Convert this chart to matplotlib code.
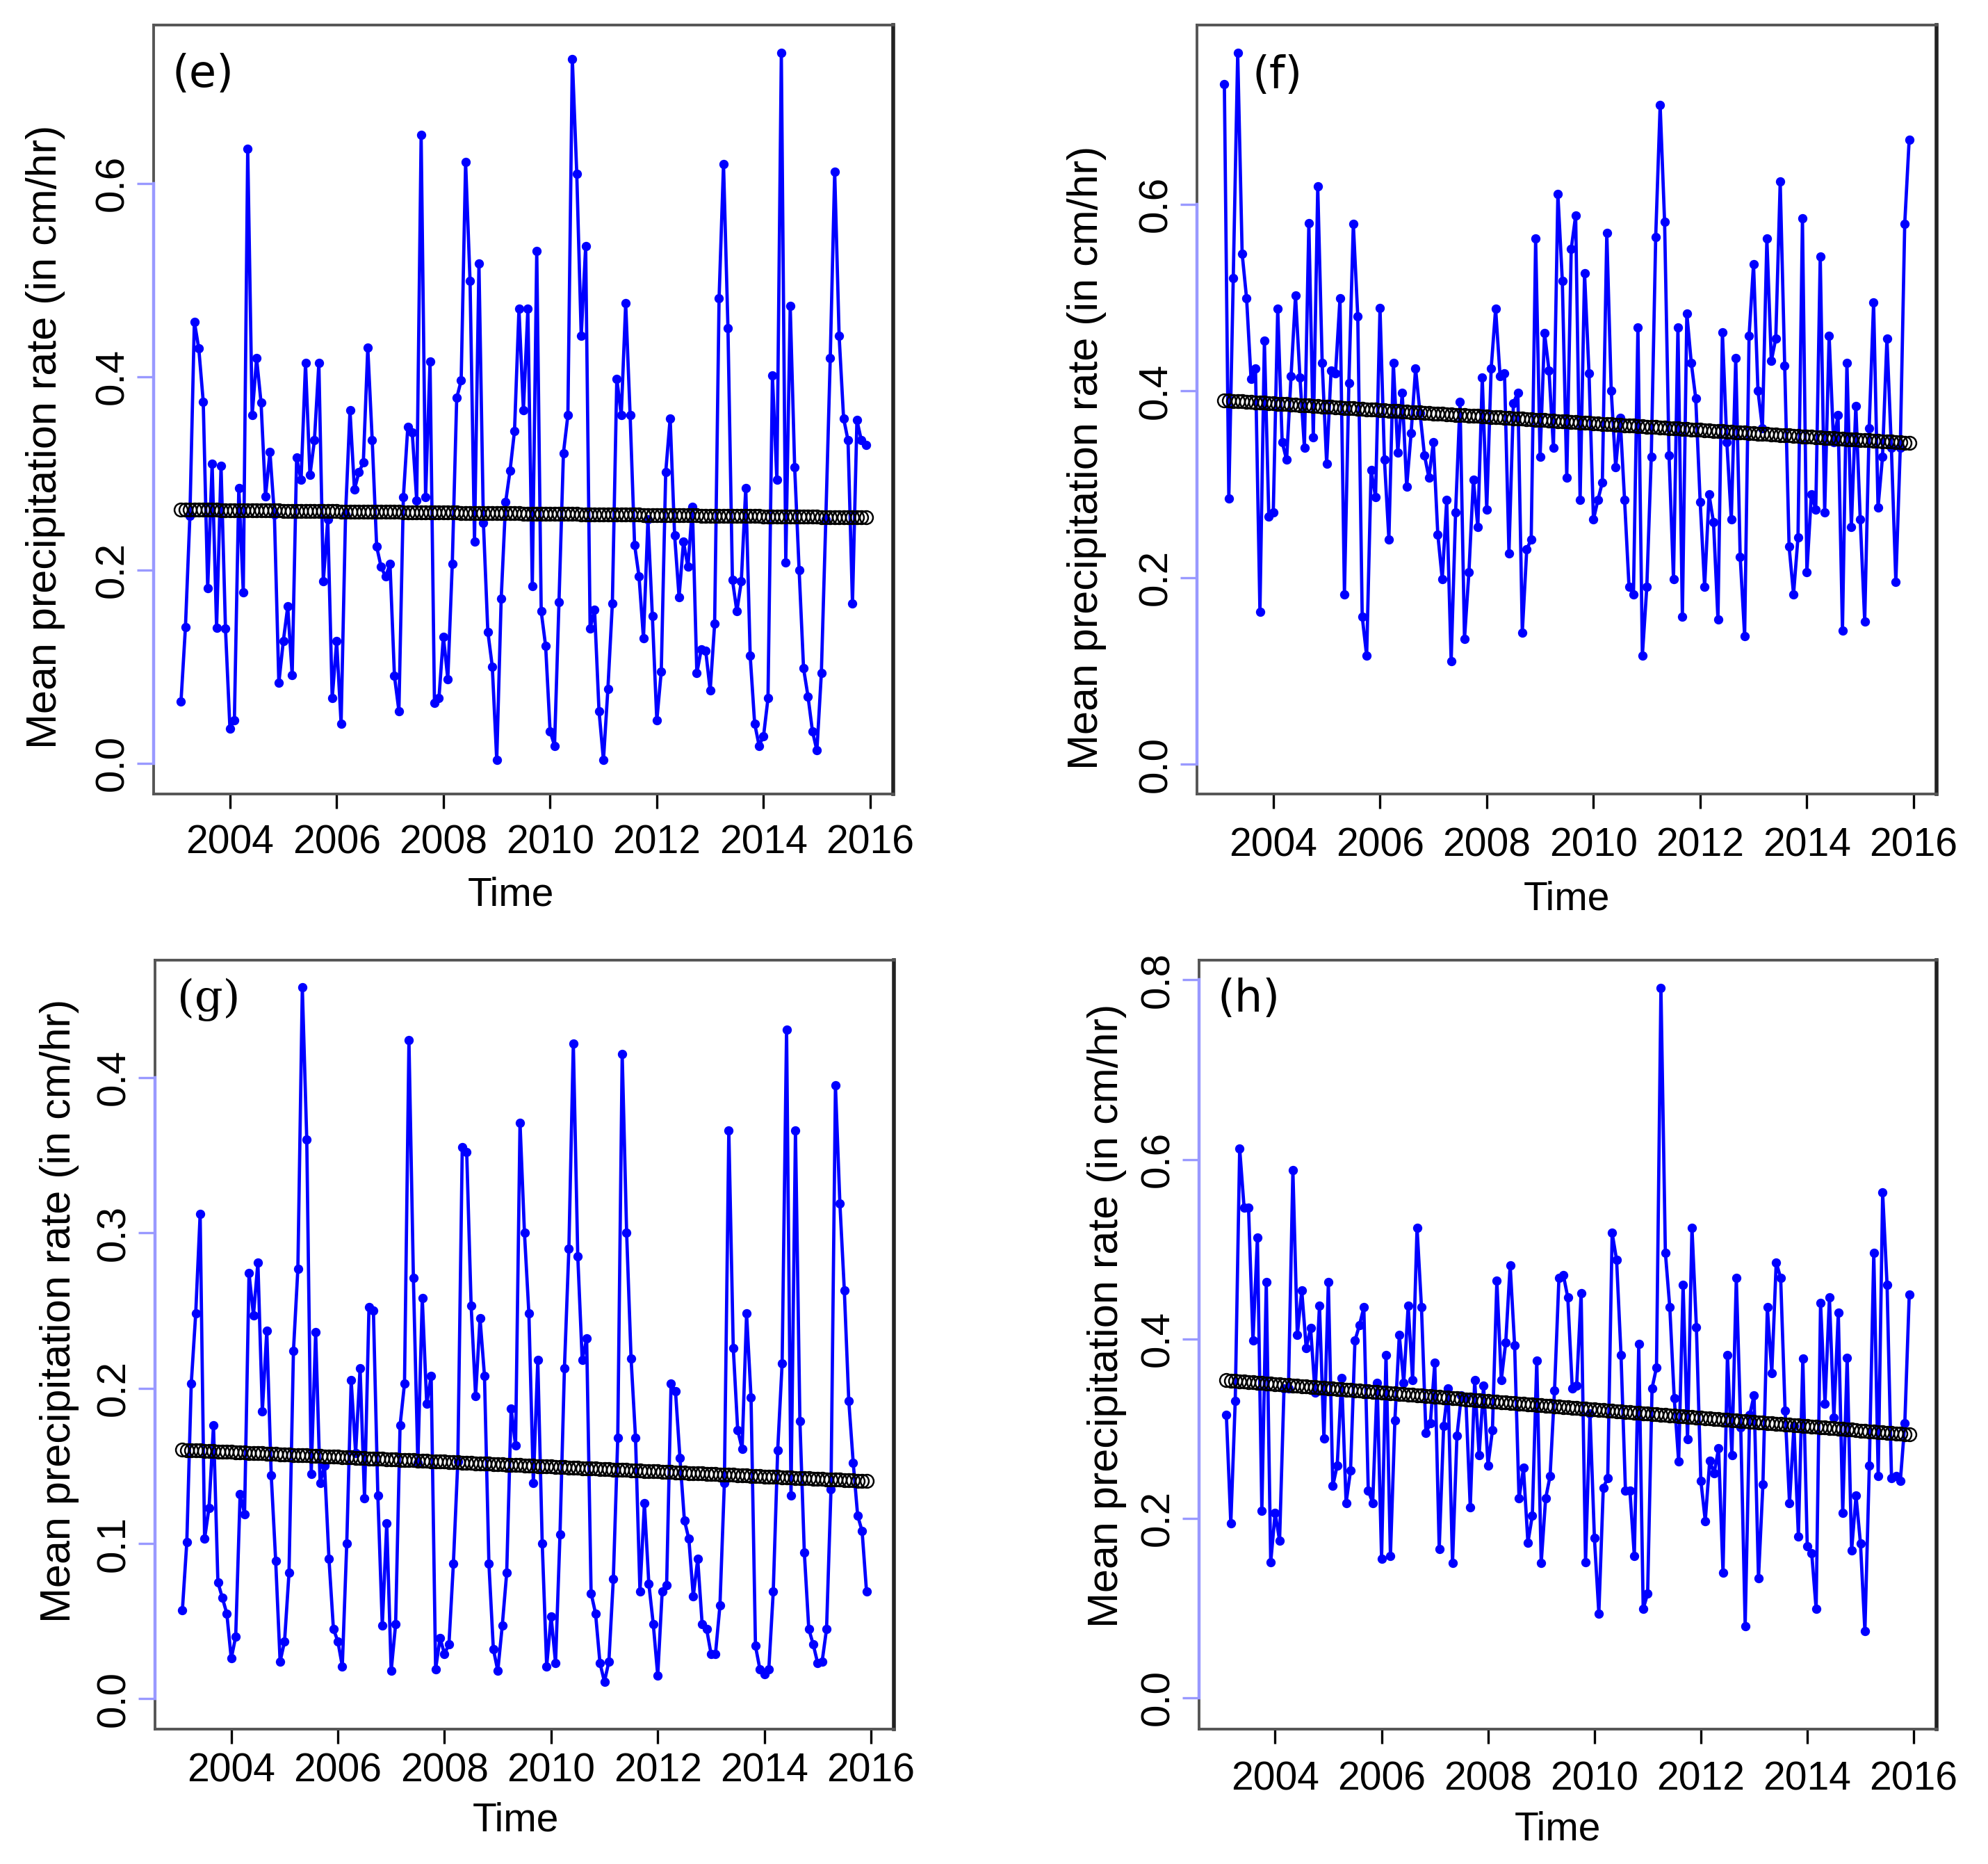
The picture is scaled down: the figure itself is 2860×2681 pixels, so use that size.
import numpy as np
import matplotlib.pyplot as plt
from matplotlib import font_manager

# monthly series, Feb 2003 .. Dec 2015
start = 2003 + 1 / 12

rate_e = [0.064, 0.141, 0.256, 0.457, 0.429, 0.374, 0.181, 0.310, 0.140, 0.308,
          0.139, 0.036, 0.044, 0.285, 0.177, 0.636, 0.360, 0.419, 0.373, 0.276,
          0.322, 0.257, 0.083, 0.126, 0.162, 0.091, 0.316, 0.293, 0.414, 0.298,
          0.334, 0.414, 0.188, 0.252, 0.067, 0.126, 0.041, 0.257, 0.365, 0.283,
          0.301, 0.311, 0.430, 0.334, 0.224, 0.203, 0.193, 0.206, 0.090, 0.054,
          0.275, 0.348, 0.342, 0.272, 0.650, 0.275, 0.416, 0.062, 0.067, 0.131,
          0.087, 0.206, 0.378, 0.396, 0.622, 0.499, 0.229, 0.517, 0.249, 0.136,
          0.100, 0.003, 0.170, 0.270, 0.303, 0.344, 0.470, 0.365, 0.470, 0.183,
          0.530, 0.157, 0.121, 0.033, 0.018, 0.167, 0.321, 0.360, 0.729, 0.610,
          0.442, 0.535, 0.139, 0.159, 0.054, 0.003, 0.077, 0.165, 0.398, 0.360,
          0.476, 0.360, 0.226, 0.193, 0.129, 0.252, 0.152, 0.044, 0.095, 0.301,
          0.357, 0.236, 0.172, 0.229, 0.203, 0.265, 0.093, 0.118, 0.116, 0.075,
          0.144, 0.481, 0.620, 0.450, 0.190, 0.157, 0.188, 0.285, 0.111, 0.041,
          0.018, 0.028, 0.067, 0.401, 0.293, 0.735, 0.208, 0.473, 0.306, 0.200,
          0.098, 0.069, 0.033, 0.013, 0.093, 0.252, 0.419, 0.612, 0.442, 0.357,
          0.334, 0.165, 0.355, 0.334, 0.329]

rate_f = [0.729, 0.285, 0.521, 0.762, 0.547, 0.499, 0.413, 0.424, 0.163, 0.454,
          0.265, 0.270, 0.488, 0.345, 0.326, 0.416, 0.502, 0.414, 0.339, 0.580,
          0.350, 0.619, 0.430, 0.322, 0.422, 0.419, 0.499, 0.182, 0.408, 0.579,
          0.480, 0.158, 0.116, 0.315, 0.286, 0.489, 0.326, 0.241, 0.430, 0.334,
          0.398, 0.297, 0.355, 0.424, 0.376, 0.331, 0.307, 0.345, 0.246, 0.198,
          0.283, 0.110, 0.270, 0.388, 0.134, 0.206, 0.305, 0.254, 0.414, 0.273,
          0.424, 0.488, 0.416, 0.419, 0.226, 0.387, 0.398, 0.141, 0.230, 0.241,
          0.563, 0.329, 0.462, 0.422, 0.339, 0.611, 0.518, 0.307, 0.552, 0.588,
          0.283, 0.526, 0.419, 0.262, 0.283, 0.302, 0.569, 0.400, 0.318, 0.371,
          0.283, 0.190, 0.182, 0.468, 0.116, 0.190, 0.329, 0.565, 0.706, 0.581,
          0.331, 0.198, 0.468, 0.158, 0.483, 0.430, 0.392, 0.281, 0.190, 0.289,
          0.259, 0.155, 0.463, 0.345, 0.262, 0.435, 0.222, 0.137, 0.459, 0.536,
          0.400, 0.360, 0.563, 0.432, 0.456, 0.624, 0.427, 0.233, 0.182, 0.243,
          0.585, 0.206, 0.289, 0.273, 0.544, 0.270, 0.459, 0.345, 0.374, 0.143,
          0.430, 0.254, 0.384, 0.262, 0.153, 0.360, 0.495, 0.275, 0.329, 0.456,
          0.339, 0.195, 0.339, 0.579, 0.669]

rate_g = [0.057, 0.101, 0.203, 0.248, 0.312, 0.103, 0.123, 0.176, 0.075, 0.065,
          0.055, 0.026, 0.040, 0.132, 0.119, 0.274, 0.247, 0.281, 0.185, 0.237,
          0.144, 0.089, 0.024, 0.037, 0.081, 0.224, 0.277, 0.458, 0.360, 0.145,
          0.236, 0.139, 0.150, 0.090, 0.045, 0.037, 0.021, 0.100, 0.205, 0.158,
          0.213, 0.129, 0.252, 0.250, 0.131, 0.047, 0.113, 0.018, 0.048, 0.176,
          0.203, 0.424, 0.271, 0.152, 0.258, 0.190, 0.208, 0.019, 0.039, 0.029,
          0.035, 0.087, 0.153, 0.355, 0.352, 0.253, 0.195, 0.245, 0.208, 0.087,
          0.032, 0.018, 0.047, 0.081, 0.187, 0.163, 0.371, 0.300, 0.248, 0.139,
          0.218, 0.100, 0.021, 0.053, 0.023, 0.106, 0.213, 0.290, 0.422, 0.285,
          0.218, 0.232, 0.068, 0.055, 0.023, 0.011, 0.024, 0.077, 0.168, 0.415,
          0.300, 0.219, 0.168, 0.069, 0.126, 0.074, 0.048, 0.015, 0.069, 0.073,
          0.203, 0.198, 0.155, 0.115, 0.103, 0.066, 0.090, 0.048, 0.045, 0.029,
          0.029, 0.060, 0.139, 0.366, 0.226, 0.173, 0.161, 0.248, 0.194, 0.034,
          0.019, 0.016, 0.019, 0.069, 0.160, 0.216, 0.431, 0.131, 0.366, 0.179,
          0.094, 0.045, 0.035, 0.023, 0.024, 0.045, 0.135, 0.395, 0.319, 0.263,
          0.192, 0.152, 0.118, 0.108, 0.069]

rate_h = [0.315, 0.194, 0.331, 0.612, 0.546, 0.546, 0.398, 0.513, 0.208, 0.463,
          0.151, 0.206, 0.175, 0.345, 0.345, 0.588, 0.404, 0.454, 0.390, 0.412,
          0.340, 0.437, 0.289, 0.463, 0.236, 0.259, 0.356, 0.217, 0.253, 0.398,
          0.415, 0.435, 0.231, 0.217, 0.351, 0.155, 0.382, 0.158, 0.309, 0.404,
          0.351, 0.437, 0.354, 0.524, 0.435, 0.295, 0.306, 0.373, 0.166, 0.303,
          0.345, 0.150, 0.292, 0.337, 0.334, 0.212, 0.354, 0.270, 0.348, 0.259,
          0.298, 0.465, 0.354, 0.396, 0.482, 0.393, 0.222, 0.256, 0.173, 0.203,
          0.376, 0.150, 0.222, 0.247, 0.342, 0.468, 0.471, 0.446, 0.345, 0.348,
          0.451, 0.151, 0.317, 0.178, 0.094, 0.234, 0.245, 0.518, 0.488, 0.382,
          0.231, 0.231, 0.158, 0.394, 0.099, 0.116, 0.345, 0.368, 0.791, 0.496,
          0.435, 0.334, 0.263, 0.460, 0.288, 0.524, 0.413, 0.242, 0.197, 0.264,
          0.250, 0.278, 0.139, 0.382, 0.270, 0.468, 0.301, 0.080, 0.315, 0.337,
          0.133, 0.238, 0.435, 0.362, 0.485, 0.468, 0.320, 0.217, 0.303, 0.180,
          0.378, 0.169, 0.161, 0.099, 0.440, 0.328, 0.446, 0.312, 0.429, 0.206,
          0.379, 0.164, 0.225, 0.172, 0.074, 0.259, 0.496, 0.247, 0.563, 0.460,
          0.245, 0.247, 0.242, 0.306, 0.449]

year_ticks = [2004, 2006, 2008, 2010, 2012, 2014, 2016]

# the x-axis text in the source is condensed; use a narrow face if there is one
try:
    font_manager.findfont("Liberation Sans Narrow", fallback_to_default=False)
    narrow, narrow_size = ["Liberation Sans Narrow", "DejaVu Sans"], 22
except ValueError:
    narrow, narrow_size = ["Liberation Sans", "DejaVu Sans"], 20.5
plain = ["Liberation Sans", "DejaVu Sans"]

W, H = 2860, 2681
fig = plt.figure(figsize=(W / 200, H / 200), dpi=200)

# (series, tag, axes box in px [l, t, r, b], ylim, yticks, label offsets)
panels = [
    (rate_e, "(e)", [221, 36, 1285, 1142], (-0.032, 0.764), [0.0, 0.2, 0.4, 0.6],
     dict(ylab_x=-0.146, ylab_y=0.464, xpad=8, time_x=0.483, time_y=-0.132, tag_x=0.025, tag_y=0.936, tag_family="DejaVu Sans")),
    (rate_f, "(f)", [1722, 36, 2786, 1142], (-0.032, 0.792), [0.0, 0.2, 0.4, 0.6],
     dict(ylab_x=-0.149, ylab_y=0.437, xpad=9.4, time_x=0.5, time_y=-0.137, tag_x=0.075, tag_y=0.934, tag_family="DejaVu Sans")),
    (rate_g, "(g)", [223, 1381, 1286, 2487], (-0.0195, 0.4756), [0.0, 0.1, 0.2, 0.3, 0.4],
     dict(ylab_x=-0.129, ylab_y=0.544, xpad=4.5, time_x=0.488, time_y=-0.119, tag_x=0.030, tag_y=0.949, tag_family="DejaVu Serif")),
    (rate_h, "(h)", [1725, 1381, 2786, 2487], (-0.035, 0.822), [0.0, 0.2, 0.4, 0.6, 0.8],
     dict(ylab_x=-0.125, ylab_y=0.538, xpad=8.7, time_x=0.486, time_y=-0.131, tag_x=0.025, tag_y=0.949, tag_family="DejaVu Sans")),
]

for vals, tag, box, ylim, yticks, opt in panels:
    l, t, r, b = box
    ax = fig.add_axes([l / W, 1 - b / H, (r - l) / W, (b - t) / H])

    vals = np.asarray(vals)
    time = start + np.arange(len(vals)) / 12
    ax.plot(time, vals, "-o", color="#0000ff", lw=1.7, ms=3.8, zorder=2)

    # linear trend fitted to the series, drawn as open circles
    slope, icpt = np.polyfit(time, vals, 1)
    ax.plot(time, icpt + slope * time, "o", ms=6.8, mfc="none", mec="black", mew=0.9, zorder=3)

    ax.set_xlim(2002.57, 2016.43)
    ax.set_ylim(*ylim)
    ax.set_xticks(year_ticks)
    ax.set_xticklabels([str(y) for y in year_ticks], family=narrow, fontsize=narrow_size)
    ax.set_yticks(yticks)
    ax.set_yticklabels([f"{v:.1f}" for v in yticks], family=plain, fontsize=21, rotation=90, va="center")

    for s in ax.spines.values():
        s.set_color("#555555")
        s.set_linewidth(1.4)
    ax.spines["right"].set_color("#222222")
    ax.spines["right"].set_linewidth(2.0)

    ax.tick_params(axis="x", length=7.6, width=1.2, color="black", pad=opt["xpad"])
    ax.tick_params(axis="y", length=8.6, width=1.2, color="#9999ff", pad=3)
    ax.plot([0, 0], [yticks[0], yticks[-1]], color="#9999ff", lw=1.6,
            transform=ax.get_yaxis_transform(), clip_on=False, zorder=4)

    ax.set_ylabel("Mean precipitation rate (in cm/hr)", family=plain, fontsize=22, va="center")
    ax.yaxis.set_label_coords(opt["ylab_x"], opt["ylab_y"])
    ax.set_xlabel("Time", family=narrow, fontsize=narrow_size, va="center")
    ax.xaxis.set_label_coords(opt["time_x"], opt["time_y"])

    ax.text(opt["tag_x"], opt["tag_y"], tag, transform=ax.transAxes, fontsize=23,
            family=opt["tag_family"], ha="left", va="center")

fig.savefig("out.png", dpi=200)
